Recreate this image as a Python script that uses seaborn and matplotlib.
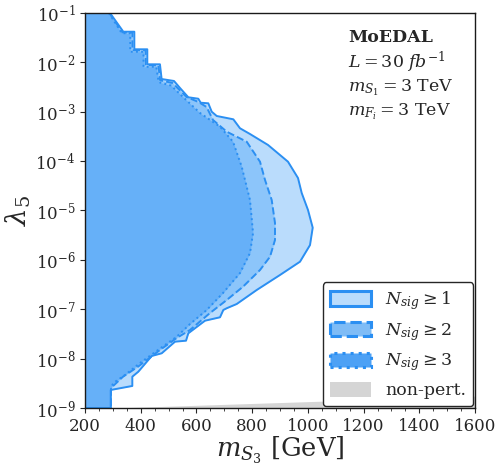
import numpy as np
import matplotlib
matplotlib.use("Agg")
import matplotlib.pyplot as plt
import seaborn as sns
from matplotlib.patches import Patch
from matplotlib.ticker import AutoMinorLocator, NullLocator, LogLocator, MultipleLocator

# ---------------- data ----------------
# boundaries given from top (lambda5 = 1e-1) to bottom (lambda5 = 1e-9);
# the region lies between m = 200 GeV and the boundary.
m_n1 = [289.7, 337.5, 377.0, 377.0, 423.6, 423.6, 469.0, 475.0, 519.5, 541.0,
        570.8, 606.7, 615.3, 642.6, 654.8, 672.8, 732.4, 756.4, 792.3, 857.0,
        928.7, 964.6, 977.9, 1000.5, 1017.4, 1007.7, 971.8, 900.0, 816.4, 744.6,
        708.7, 696.5, 684.6, 630.8, 570.8, 562.6, 523.1, 475.3, 439.4, 391.3,
        369.8, 369.8, 292.3, 292.3]
log_lam_n1 = [-1.0, -1.379, -1.379, -1.735, -1.735, -2.039, -2.039, -2.337, -2.377, -2.519,
              -2.707, -2.736, -2.817, -2.829, -2.999, -3.086, -3.153, -3.335, -3.451, -3.673,
              -4.012, -4.342, -4.646, -4.99, -5.348, -5.70, -6.037, -6.306, -6.61, -6.894,
              -6.98, -7.015, -7.163, -7.232, -7.487, -7.637, -7.657, -7.892, -7.947, -8.265,
              -8.366, -8.554, -8.635, -9.0]

m_n2 = [287.5, 334.8, 370.1, 370.1, 417.8, 417.8, 463.5, 469.6, 514.3, 564.6,
        607.6, 636.4, 659.5, 708.7, 780.5, 828.2, 846.2, 870.2, 882.0, 882.0,
        864.1, 828.2, 767.2, 708.7, 648.7, 576.9, 529.2, 469.2, 390.3, 336.4,
        293.3, 293.3]
log_lam_n2 = [-1.0, -1.395, -1.395, -1.755, -1.755, -2.058, -2.058, -2.362, -2.418, -2.701,
              -2.803, -2.904, -3.167, -3.404, -3.607, -4.012, -4.382, -4.787, -5.253, -5.597,
              -5.936, -6.205, -6.543, -6.813, -7.076, -7.420, -7.582, -7.825, -8.163, -8.366,
              -8.595, -9.0]

m_n3 = [285.6, 332.2, 362.4, 362.4, 410.0, 410.0, 455.7, 464.5, 509.1, 559.4,
        612.8, 684.6, 731.3, 762.5, 792.3, 803.1, 792.3, 756.4, 695.4, 636.9,
        576.9, 529.2, 462.0, 397.4, 343.6, 301.6, 293.3, 293.3]
log_lam_n3 = [-1.0, -1.41, -1.41, -1.785, -1.785, -2.09, -2.09, -2.40, -2.47, -2.742,
              -3.025, -3.303, -3.607, -4.113, -4.787, -5.456, -5.861, -6.266, -6.671, -7.015,
              -7.299, -7.556, -7.825, -8.089, -8.332, -8.494, -8.595, -9.0]

# non-perturbative boundary (lower grey wedge)
m_np = [200.0, 1600.0]
log_lam_np = [-9.02, -8.76]

m_min, m_max = 200, 1600
lam_min, lam_max = 1e-9, 1e-1

labels = [r"$N_{sig} \geq 1$", r"$N_{sig} \geq 2$", r"$N_{sig} \geq 3$", "non-pert."]
info_lines = [r"$L = 30\ fb^{-1}$", r"$m_{S_1} = 3$ TeV", r"$m_{F_i} = 3$ TeV"]

# ---------------- style ----------------
sns.set_style("ticks")
plt.rcParams["font.family"] = ["DejaVu Serif"]
plt.rcParams["mathtext.fontset"] = "dejavuserif"

edge = "#2b8ff2"
fills = ["#badcfc", "#8cc5fa", "#66b0f8"]
leg_fills = ["#badcfc", "#7fbcf6", "#4da1f5"]
styles = ["-", "--", ":"]

fig = plt.figure(figsize=(5.01, 4.66), dpi=100)
ax = fig.add_axes([0.1697, 0.1245, 0.7784, 0.8476])
ax.set_yscale("log")

# non-perturbative wedge
ax.fill_between(m_np, [1e-12] * len(m_np), 10 ** np.array(log_lam_np),
                color="#d5d5d5", lw=0, zorder=1)

for m, ll, fc, ls in zip([m_n1, m_n2, m_n3], [log_lam_n1, log_lam_n2, log_lam_n3],
                         fills, styles):
    lam = 10 ** np.array(ll)
    ax.fill_betweenx(lam, m_min, m, color=fc, lw=0, zorder=2)
    sns.lineplot(x=m, y=lam, sort=False, estimator=None, ax=ax, color=edge,
                 linestyle=ls, lw=1.4, zorder=3)
    sns.lineplot(x=[m_min, m[-1]], y=[lam_min, lam_min], ax=ax, color=edge,
                 linestyle=ls, lw=1.4, zorder=3)

ax.set_xlim(m_min, m_max)
ax.set_ylim(lam_min, lam_max)
ax.xaxis.set_major_locator(MultipleLocator(200))
ax.xaxis.set_minor_locator(AutoMinorLocator(4))
ax.yaxis.set_major_locator(LogLocator(base=10, numticks=20))
ax.yaxis.set_minor_locator(NullLocator())
ax.tick_params(axis="both", which="major", labelsize=12, direction="out",
               length=3.5, width=0.8, color="0.15")
ax.tick_params(axis="x", which="minor", direction="out", length=2, width=0.6, color="0.15")
for s in ax.spines.values():
    s.set_color("0.1")
    s.set_linewidth(1.0)
    s.set_zorder(5)

ax.set_xlabel(r"$m_{S_3}$ [GeV]", fontsize=18.5, labelpad=0)
ax.set_ylabel(r"$\lambda_5$", fontsize=20, labelpad=2)

# annotation
ax.text(0.674, 0.937, "MoEDAL", transform=ax.transAxes, fontsize=12.5,
        fontweight="bold", va="center", ha="left")
for txt, yy in zip(info_lines, [0.876, 0.812, 0.749]):
    ax.text(0.674, yy, txt, transform=ax.transAxes, fontsize=12.5,
            va="center", ha="left")

handles = [Patch(facecolor=leg_fills[i], edgecolor=edge, linestyle=styles[i], lw=2.2)
           for i in range(3)]
handles.append(Patch(facecolor="#d5d5d5", edgecolor="none"))
leg = ax.legend(handles, labels, loc="lower right", fontsize=12.5, frameon=True,
                framealpha=1, edgecolor="0.15", fancybox=True, borderaxespad=0.1,
                handlelength=2.4, handleheight=0.9, labelspacing=0.5)
leg.get_frame().set_linewidth(1.0)
leg.set_zorder(6)

fig.savefig("out.png", dpi=100)
